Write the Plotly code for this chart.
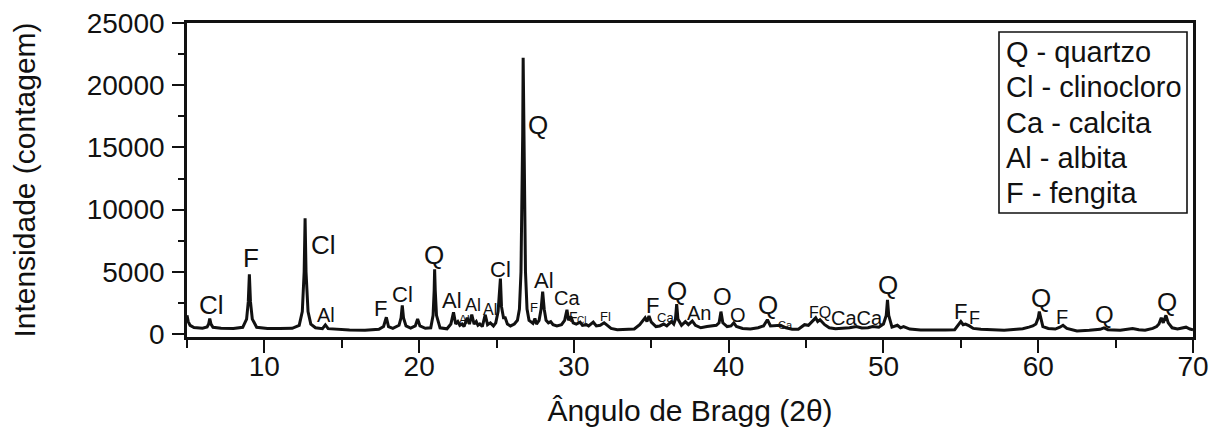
import plotly.graph_objects as go

# ---- data ----
two_theta = [
    5.00, 5.08, 5.20, 5.45, 6.00, 6.30, 6.40, 6.47, 6.55, 6.68, 7.20, 8.00, 8.60, 8.85, 8.96, 9.03, 9.10, 9.22, 9.50,
    10.20, 11.00, 11.80, 12.25, 12.45, 12.57, 12.63, 12.69, 12.82, 13.00, 13.30, 13.75, 13.94, 14.12, 14.60, 15.50,
    16.50, 17.40, 17.70, 17.88, 18.02, 18.30, 18.70, 18.83, 18.91, 18.99, 19.15, 19.45, 19.75, 19.90, 20.05, 20.40,
    20.75, 20.90, 20.97, 21.00, 21.04, 21.12, 21.35, 21.80, 22.05, 22.22, 22.36, 22.50, 22.63, 22.77, 22.90, 23.10,
    23.25, 23.40, 23.55, 23.69, 23.80, 23.92, 24.08, 24.27, 24.42, 24.60, 24.80, 24.95, 25.10, 25.20, 25.25, 25.32,
    25.45, 25.56, 25.70, 25.90, 26.15, 26.35, 26.48, 26.58, 26.64, 26.69, 26.72, 26.76, 26.81, 26.87, 26.97, 27.10,
    27.25, 27.35, 27.48, 27.58, 27.75, 27.88, 27.98, 28.08, 28.20, 28.35, 28.50, 28.65, 28.90, 29.20, 29.40, 29.55,
    29.65, 29.80, 29.95, 30.15, 30.40, 30.55, 30.80, 30.95, 31.25, 31.45, 31.70, 31.95, 32.10, 32.40, 32.80, 33.40,
    33.90, 34.25, 34.45, 34.60, 34.72, 34.85, 35.00, 35.30, 35.55, 35.80, 36.00, 36.30, 36.45, 36.56, 36.64, 36.72,
    36.95, 37.20, 37.40, 37.65, 37.85, 38.20, 38.60, 38.90, 39.20, 39.38, 39.50, 39.62, 39.90, 40.15, 40.33, 40.50,
    40.90, 41.40, 41.90, 42.25, 42.50, 42.70, 43.00, 43.35, 43.70, 44.10, 44.50, 44.90, 45.15, 45.50, 45.62, 45.75,
    45.90, 46.20, 46.50, 46.90, 47.40, 47.80, 48.25, 48.60, 49.00, 49.30, 49.70, 50.00, 50.18, 50.26, 50.34, 50.55,
    50.90, 51.10, 51.30, 51.70, 52.40, 53.20, 54.00, 54.60, 54.85, 55.00, 55.15, 55.30, 55.55, 55.80, 56.30, 57.00,
    57.80, 58.60, 59.00, 59.40, 59.65, 59.85, 60.00, 60.07, 60.15, 60.30, 60.65, 61.10, 61.40, 61.60, 61.85, 62.50,
    63.30, 64.00, 64.25, 64.50, 65.30, 65.80, 66.10, 66.50, 66.90, 67.40, 67.65, 67.80, 67.95, 68.08, 68.25, 68.40,
    68.65, 69.00, 69.30, 69.55, 69.80, 70.00,
]
intensity = [
    1500, 1000, 700, 520, 470, 560, 800, 1250, 800, 540, 460, 450, 540, 1200, 2600, 4800, 2600, 1200, 540,
    450, 440, 460, 700, 1800, 5000, 9300, 5000, 1800, 800, 500, 430, 730, 430, 380, 320,
    300, 380, 600, 1350, 600, 460, 700, 1300, 2300, 1300, 650, 480, 650, 1200, 650, 460,
    500, 1500, 3500, 5200, 3500, 1500, 500, 420, 800, 1750, 800, 1000, 700, 800, 600, 1300,
    800, 1550, 800, 1000, 700, 800, 600, 1550, 750, 900, 650, 900, 1800, 3500, 4450, 2200,
    1300, 1300, 800, 650, 800, 1100, 2000, 5000, 10000, 16000, 22200, 16000, 10000, 5000, 2000, 1100,
    950, 850, 1250, 800, 1100, 2000, 3400, 2000, 1100, 900, 1000, 750, 650, 750, 1100, 1950,
    1100, 1400, 900, 800, 950, 700, 750, 650, 950, 650, 700, 900, 750, 450, 350, 380,
    400, 750, 1100, 1300, 1000, 1450, 950, 600, 650, 800, 650, 1000, 800, 1200, 2400, 1200,
    700, 1000, 750, 1050, 700, 500, 600, 650, 700, 900, 1800, 900, 600, 650, 900, 600,
    450, 400, 500, 650, 1150, 650, 650, 700, 500, 380, 380, 750, 700, 1100, 1300, 1000,
    1150, 750, 500, 420, 450, 500, 600, 480, 500, 600, 550, 800, 1500, 2750, 1500, 550,
    700, 500, 600, 400, 320, 300, 330, 350, 700, 1000, 750, 800, 650, 450, 380, 350,
    300, 380, 420, 550, 650, 800, 1300, 1800, 1300, 600, 450, 400, 550, 700, 450, 250,
    300, 380, 500, 350, 300, 380, 450, 350, 300, 450, 600, 800, 1300, 900, 1500, 900,
    500, 400, 450, 550, 400, 350,
]

# peak labels: text, 2theta, intensity, font size
peak_text = ["Cl", "F", "Cl", "Al", "F", "Cl", "Q", "Al", "Al", "Al", "Al", "Cl",
             "Q", "F", "Al", "Ca", "F", "Cl", "Fl", "F", "Ca", "Q", "An", "O", "O",
             "Q", "Ca", "FQ", "CaCa", "Q", "F", "F", "Q", "F", "Q", "Q"]
peak_x = [6.56, 9.16, 13.83, 14.0, 17.49, 18.95, 20.93, 22.12, 22.9, 23.45, 24.55, 25.24,
          27.71, 27.4, 28.04, 29.55, 30.0, 30.5, 32.03, 35.08, 35.9, 36.69, 38.05, 39.6, 40.57,
          42.57, 43.65, 45.92, 48.3, 50.3, 54.95, 55.9, 60.2, 61.56, 64.3, 68.34]
peak_y = [2330, 6110, 7160, 1530, 2060, 3140, 6350, 2730, 1150, 2330, 1990, 5150,
          16800, 2100, 4340, 2920, 1400, 1100, 1400, 2330, 1290, 3480, 1660, 3000, 1530,
          2330, 720, 1740, 1290, 3940, 1800, 1260, 2870, 1400, 1530, 2600]
peak_size = [26, 26, 26, 20, 22, 22, 26, 22, 12, 18, 16, 22,
             26, 13, 22, 20, 14, 10, 13, 22, 13, 26, 20, 24, 20,
             26, 11, 16, 20, 26, 22, 18, 26, 20, 24, 26]

legend_lines = ["Q - quartzo", "Cl - clinocloro", "Ca - calcita", "Al - albita", "F - fengita"]

x_ticks = [10, 20, 30, 40, 50, 60, 70]
y_ticks = [0, 5000, 10000, 15000, 20000, 25000]

FONT = "Liberation Sans, Arial, Helvetica, sans-serif"

# page body has an 8px margin: compensate so the plot lands where the reference has it
PAGE = 8
FIG_W, FIG_H = 1221 - PAGE, 436 - PAGE
L, R, T, B = 187, 1193, 23, 337          # plot area in screenshot pixels
W, H = R - L, B - T

def px(xp):
    return (xp - L) / W

def py(yp):
    return 1 - (yp - T) / H

fig = go.Figure()
fig.add_trace(go.Scatter(x=two_theta, y=intensity, mode="lines",
                         line=dict(color="#111111", width=3), showlegend=False,
                         hoverinfo="skip"))

for t, x, y, s in zip(peak_text, peak_x, peak_y, peak_size):
    fig.add_annotation(x=x, y=y, text=t, showarrow=False, xanchor="center", yanchor="middle",
                       font=dict(family=FONT, size=s, color="#111111"))

# legend box (decoration)
fig.add_shape(type="rect", xref="paper", yref="paper", x0=px(999), x1=px(1187), y0=py(213), y1=py(32),
              line=dict(color="#111111", width=1.6), fillcolor="white")
for i, t in enumerate(legend_lines):
    fig.add_annotation(xref="paper", yref="paper", x=px(1004), y=py(52 + 35.3 * i), text=t,
                       showarrow=False, xanchor="left", yanchor="middle",
                       font=dict(family=FONT, size=29, color="#111111"))

fig.update_layout(
    width=FIG_W, height=FIG_H,
    margin=dict(l=L - PAGE, r=1221 - R, t=T - PAGE, b=436 - B),
    paper_bgcolor="white", plot_bgcolor="white",
    font=dict(family=FONT, color="#111111"),
    showlegend=False,
)
fig.update_xaxes(
    range=[5, 70], tickvals=x_ticks, ticks="outside", ticklen=13, tickwidth=2.2, tickcolor="#111111",
    minor=dict(dtick=5, tick0=5, ticks="outside", ticklen=8, tickwidth=2.2, tickcolor="#111111"),
    showline=True, linewidth=2.6, linecolor="#111111", mirror=True, showgrid=False, zeroline=False,
    tickfont=dict(family=FONT, size=28, color="#111111"), ticklabelstandoff=-10,
    ticklabeloverflow="allow",
    title=dict(text="Ângulo de Bragg (2θ)", font=dict(family=FONT, size=30, color="#111111"), standoff=19),
    automargin=False,
)
fig.update_yaxes(
    range=[-240, 25000], tickvals=y_ticks, tickformat="d", ticks="outside", ticklen=12, tickwidth=2.2,
    tickcolor="#111111",
    minor=dict(dtick=2500, tick0=0, ticks="outside", ticklen=6, tickwidth=2.2, tickcolor="#111111"),
    showline=True, linewidth=2.6, linecolor="#111111", mirror=True, showgrid=False, zeroline=False,
    tickfont=dict(family=FONT, size=28, color="#111111"), ticklabelstandoff=2,
    ticklabeloverflow="allow",
    title=dict(text="Intensidade (contagem)", font=dict(family=FONT, size=30, color="#111111"), standoff=46),
    automargin=False,
)

fig.write_html("out.html")
